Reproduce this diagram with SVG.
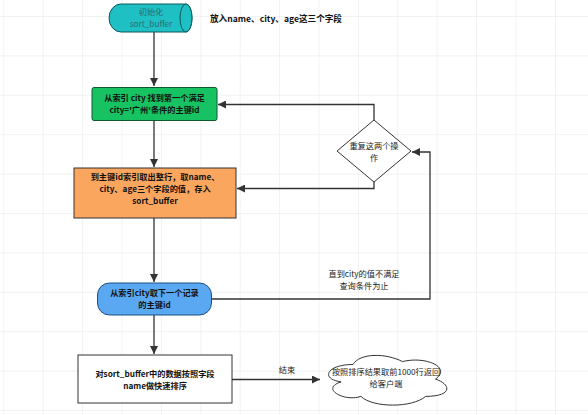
<svg xmlns="http://www.w3.org/2000/svg" width="588" height="415" viewBox="0 0 588 415">
<defs>
<pattern id="grid" x="3.3" y="16" width="39.4" height="39.4" patternUnits="userSpaceOnUse">
<path d="M0 0 H39.4 M0 0 V39.4" fill="none" stroke="#e6e6e6" stroke-width="1"/>
</pattern>
<marker id="arr" viewBox="0 0 10 10" refX="10" refY="5" markerWidth="8" markerHeight="8" markerUnits="userSpaceOnUse" orient="auto">
<path d="M0 0 L10 5 L0 10 Z" fill="#333"/>
</marker>
<style>
text{font-family:"Noto Sans CJK SC","Noto Sans",sans-serif;font-size:8.2px;text-anchor:middle;fill:#111}
.b{font-weight:bold}
.n{font-weight:normal;fill:#222}
.edge{fill:none;stroke:#333;stroke-width:1.3}
.box{stroke:#333;stroke-width:1}
</style>
</defs>
<rect width="588" height="415" fill="#fff"/>
<rect width="588" height="415" fill="url(#grid)"/>

<g id="connectors">
<path class="edge" d="M154 32 V86" marker-end="url(#arr)"/>
<path class="edge" d="M154 121 V167" marker-end="url(#arr)"/>
<path class="edge" d="M154 218 V282" marker-end="url(#arr)"/>
<path class="edge" d="M154 315 V354" marker-end="url(#arr)"/>
<path class="edge" d="M374 120 V104.5 H218" marker-end="url(#arr)"/>
<path class="edge" d="M374 182 V188.5 H237" marker-end="url(#arr)"/>
<path class="edge" d="M212 299 H430 V152 H412" marker-end="url(#arr)"/>
<path class="edge" d="M232 379.5 H320" marker-end="url(#arr)"/>
<text class="n" x="287" y="373">结束</text>
<text class="n" x="364" y="277">直到city的值不满足</text>
<text class="n" x="364" y="289">查询条件为止</text>
</g>

<g id="start">
<path d="M121 4 H186 A6 14 0 0 1 186 32 H121 A12 14 0 0 1 121 4 Z" fill="#1ec0c3" stroke="#0b5a5c" stroke-width="1"/>
<ellipse cx="186" cy="18" rx="6" ry="14" fill="#1ec0c3" stroke="#0b5a5c" stroke-width="1"/>
<text class="n" x="151" y="15" style="fill:#2a6e70">初始化</text>
<text class="n" x="151" y="27" style="fill:#2a6e70">sort_buffer</text>
</g>

<g id="note-top">
<text class="b" x="210" y="22" style="text-anchor:start;font-size:8.6px">放入name、city、age这三个字段</text>
</g>

<g id="find-first">
<rect class="box" x="92" y="87.5" width="125" height="33" rx="2" fill="#16c262" style="stroke:#0d5a2e"/>
<text class="b" x="154.5" y="101">从索引 city 找到第一个满足</text>
<text class="b" x="154.5" y="113">city='广州'条件的主键id</text>
</g>

<g id="fetch-row">
<rect class="box" x="74" y="168" width="162" height="50" fill="#fba65e"/>
<text class="b" x="155" y="179.5">到主键id索引取出整行，取name、</text>
<text class="b" x="155" y="191.5">city、age三个字段的值，存入</text>
<text class="b" x="155" y="203.5">sort_buffer</text>
</g>

<g id="repeat">
<path class="box" d="M374 120 L411 151 L374 182 L337 151 Z" fill="#fff"/>
<text class="n" x="374" y="148.5">重复这两个操</text>
<text class="n" x="374" y="160.5">作</text>
</g>

<g id="next-record">
<rect class="box" x="97.5" y="283" width="114" height="32" rx="12" fill="#5aa8f2" style="stroke:#1c4f80"/>
<text class="b" x="154.5" y="296">从索引city取下一个记录</text>
<text class="b" x="154.5" y="308">的主键id</text>
</g>

<g id="sort">
<rect class="box" x="78" y="355" width="154" height="48" fill="#fff"/>
<text class="b" x="155" y="376.5">对sort_buffer中的数据按照字段</text>
<text class="b" x="155" y="388.5">name做快速排序</text>
</g>

<g id="return">
<path class="box" d="M353 364.5 C326.6 364.5 320 379 341.1 381.9 C320 388.3 343.8 402.2 360.9 396.4 C372.8 408 412.4 408 425.6 396.4 C452 396.4 452 384.8 435.5 379 C452 367.4 425.6 355.8 402.5 361.6 C386 352.9 359.6 352.9 353 364.5 Z" fill="#fff"/>
<text class="n" x="386" y="375">按照排序结果取前1000行返回</text>
<text class="n" x="386" y="387">给客户端</text>
</g>
</svg>
